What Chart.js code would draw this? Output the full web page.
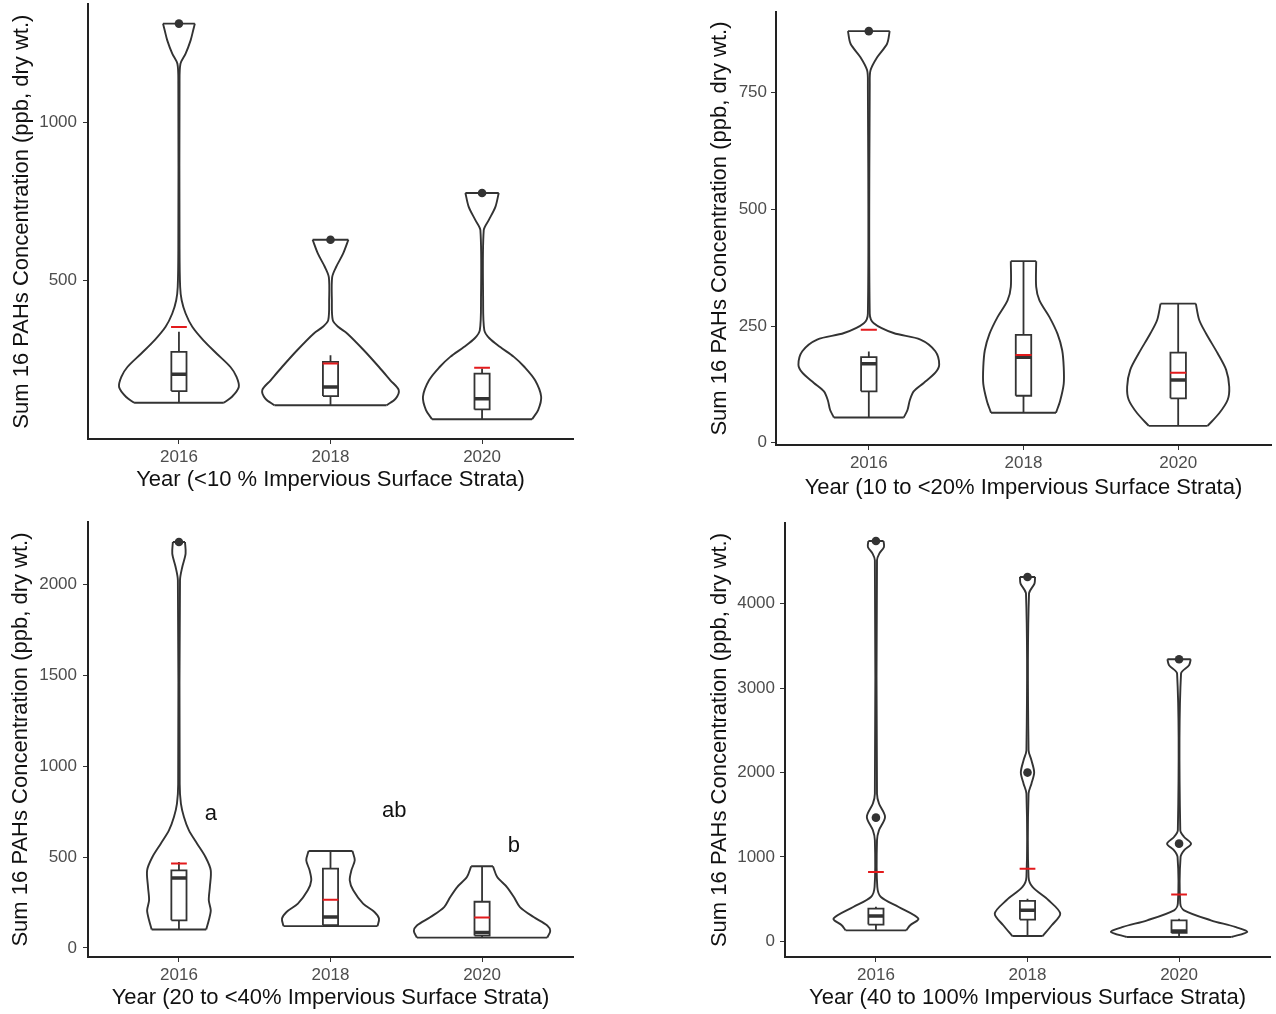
<!DOCTYPE html>
<html>
<head>
<meta charset="utf-8">
<script src="https://cdn.jsdelivr.net/npm/chart.js@4.4.1/dist/chart.umd.min.js"></script>
<style>
html, body { margin: 0; padding: 0; background: #fff; width: 1276px; height: 1014px; overflow: hidden; }
canvas { position: absolute; }
</style>
</head>
<body>
<canvas id="chartA" width="600" height="500" style="left:0;top:0"></canvas>
<canvas id="chartB" width="586" height="508" style="left:690px;top:0"></canvas>
<canvas id="chartC" width="600" height="504" style="left:0;top:510px"></canvas>
<canvas id="chartD" width="586" height="504" style="left:690px;top:510px"></canvas>
<script>
var years = ["2016", "2018", "2020"];

// violin outlines: [value, half width in category units], bottom to top
// <10 % impervious
var violinA2016 = [[113,0.296],[132,0.35],[163,0.395],[195,0.38],[226,0.34],[268,0.25],[311,0.16],[353,0.088],[395,0.044],[437,0.018],[479,0.008],[600,0.004],[1121,0.004],[1184,0.01],[1216,0.044],[1258,0.077],[1290,0.094],[1311,0.105]];
var violinA2018 = [[105,0.37],[126,0.43],[153,0.45],[184,0.395],[226,0.32],[279,0.22],[332,0.11],[353,0.05],[374,0.015],[437,0.009],[510,0.011],[542,0.037],[584,0.083],[628,0.118]];
var violinA2020 = [[61,0.33],[90,0.37],[132,0.39],[184,0.35],[226,0.28],[258,0.21],[289,0.12],[316,0.05],[342,0.015],[437,0.007],[658,0.011],[690,0.044],[732,0.088],[776,0.11]];
// whisker low, q1, median, q3, whisker high
var boxA = [[113,150,203,274,337],[105,134,163,242,263],[61,92,126,205,221]];
var meanA = [352, 237, 224];
var outlierA = [[1311],[628],[776]];

// 10 to <20%
var violinB2016 = [[54,0.226],[70,0.25],[91,0.265],[110,0.29],[128,0.355],[150,0.43],[167,0.455],[196,0.43],[221,0.334],[235,0.16],[256,0.032],[277,0.006],[769,0.006],[798,0.011],[826,0.054],[855,0.118],[882,0.135]];
var violinB2018 = [[64,0.21],[90,0.237],[126,0.26],[162,0.26],[198,0.25],[233,0.22],[269,0.168],[305,0.103],[334,0.082],[389,0.082]];
var violinB2020 = [[36,0.19],[63,0.265],[92,0.32],[120,0.33],[156,0.31],[192,0.254],[234,0.18],[263,0.136],[298,0.114]];
var boxB = [[54,110,169,183.5,195.6],[64,100.5,183,231,389],[36,95,134.5,193,298]];
var meanB = [242, 188, 150];
var outlierB = [[882],[],[]];

// 20 to <40%
var violinC2016 = [[102,0.18],[152,0.197],[207,0.21],[262,0.197],[335,0.204],[427,0.21],[500,0.175],[573,0.12],[646,0.066],[720,0.033],[793,0.013],[900,0.005],[2021,0.007],[2094,0.022],[2167,0.044],[2231,0.04]];
var violinC2018 = [[120,0.31],[162,0.32],[198,0.29],[244,0.215],[317,0.15],[372,0.127],[427,0.138],[482,0.16],[533,0.145]];
var violinC2020 = [[57,0.43],[93,0.45],[124,0.43],[170,0.34],[225,0.25],[280,0.21],[335,0.164],[390,0.1],[449,0.072]];
var boxC = [[102,152,385,427,473],[120,125,171,436,533],[57,68,85,254,449]];
var meanC = [464, 265, 167];
var outlierC = [[2231],[],[]];
var lettersC = ["a", "ab", "b"];

// 40 to 100%
var violinD2016 = [[130,0.2],[190,0.226],[269,0.28],[407,0.15],[525,0.033],[643,0.009],[1198,0.007],[1316,0.02],[1474,0.06],[1632,0.02],[1749,0.007],[4514,0.007],[4593,0.022],[4672,0.053],[4743,0.05]];
var violinD2018 = [[62,0.1],[190,0.16],[328,0.216],[486,0.139],[644,0.033],[762,0.007],[1750,0.007],[1868,0.026],[1999,0.044],[2145,0.026],[2264,0.007],[4120,0.01],[4238,0.046],[4317,0.05]];
var violinD2020 = [[51,0.345],[111,0.45],[170,0.37],[249,0.21],[367,0.033],[447,0.008],[1000,0.01],[1078,0.033],[1157,0.079],[1236,0.033],[1315,0.008],[3172,0.013],[3270,0.066],[3341,0.077]];
var boxD = [[130,198,300,388,410],[62,257,367,478,505],[51,99,123,249,268]];
var meanD = [821, 861, 555];
var outlierD = [[4743,1465],[4317,1999],[3341,1157]];

var FONT = "'Liberation Sans', Arial, sans-serif";
var DARK = '#333333';

function buildDatasets(violins, boxes, means, outliers) {
    var ds = [];
    var boxHalf = 0.05, meanHalf = 0.052;

    var pts = [];
    outliers.forEach(function(list, i) {
        list.forEach(function(v) { pts.push({x: i + 1, y: v}); });
    });
    ds.push({data: pts, showLine: false, pointRadius: 4.3, pointBackgroundColor: DARK, pointBorderColor: DARK, pointBorderWidth: 0});

    var mean = [], med = [], box = [], whisk = [];
    means.forEach(function(m, i) {
        var c = i + 1;
        mean.push({x: c - meanHalf, y: m}, {x: c + meanHalf, y: m}, {x: c, y: null});
    });
    boxes.forEach(function(b, i) {
        var c = i + 1;
        med.push({x: c - boxHalf, y: b[2]}, {x: c + boxHalf, y: b[2]}, {x: c, y: null});
        box.push({x: c - boxHalf, y: b[1]}, {x: c + boxHalf, y: b[1]}, {x: c + boxHalf, y: b[3]},
                 {x: c - boxHalf, y: b[3]}, {x: c - boxHalf, y: b[1]}, {x: c, y: null});
        whisk.push({x: c, y: b[0]}, {x: c, y: b[1]}, {x: c, y: null}, {x: c, y: b[3]}, {x: c, y: b[4]}, {x: c, y: null});
    });
    ds.push({data: mean, borderColor: '#e31a1c', borderWidth: 2, pointRadius: 0});
    ds.push({data: med, borderColor: DARK, borderWidth: 3.5, pointRadius: 0});
    ds.push({data: box, borderColor: DARK, borderWidth: 1.8, pointRadius: 0});
    ds.push({data: whisk, borderColor: DARK, borderWidth: 1.8, pointRadius: 0});

    violins.forEach(function(p, i) {
        var c = i + 1;
        ds.push({data: p.map(function(q) { return {x: c - q[1], y: q[0]}; }), tension: 0.3, borderColor: DARK, borderWidth: 1.9, pointRadius: 0});
        ds.push({data: p.map(function(q) { return {x: c + q[1], y: q[0]}; }), tension: 0.3, borderColor: DARK, borderWidth: 1.9, pointRadius: 0});
        var lo = p[0], hi = p[p.length - 1];
        ds.push({data: [{x: c - lo[1], y: lo[0]}, {x: c + lo[1], y: lo[0]}, {x: c, y: null},
                        {x: c - hi[1], y: hi[0]}, {x: c + hi[1], y: hi[0]}],
                 tension: 0, borderColor: DARK, borderWidth: 1.9, pointRadius: 0});
    });
    return ds;
}

function makeChart(id, cfg) {
    var ctx = document.getElementById(id).getContext("2d");
    return new Chart(ctx, {
        type: 'line',
        data: {datasets: buildDatasets(cfg.violins, cfg.boxes, cfg.means, cfg.outliers)},
        plugins: cfg.plugins || [],
        options: {
            responsive: false,
            animation: false,
            devicePixelRatio: 1,
            layout: {padding: {top: cfg.padTop, right: cfg.padRight, left: 0, bottom: 0}},
            plugins: {legend: {display: false}, tooltip: {enabled: false}},
            scales: {
                x: {
                    type: 'linear', min: 0.4, max: 3.6,
                    afterBuildTicks: function(s) { s.ticks = [{value: 1}, {value: 2}, {value: 3}]; },
                    afterFit: function(s) { s.height = cfg.xHeight; s.paddingLeft = 0; s.paddingRight = 0; },
                    ticks: {callback: function(v) { return years[v - 1]; }, color: '#4d4d4d', font: {size: 17, family: FONT}, padding: 3, maxRotation: 0, autoSkip: false},
                    grid: {drawOnChartArea: false, drawTicks: true, tickLength: 5, color: DARK},
                    border: {display: true, color: '#222', width: 2},
                    title: {display: true, text: cfg.xTitle, color: '#111', font: {size: 22, family: FONT}, padding: {top: 0, bottom: cfg.xTitlePad}}
                },
                y: {
                    type: 'linear', min: cfg.yMin, max: cfg.yMax,
                    afterBuildTicks: function(s) { s.ticks = cfg.yTicks.map(function(v) { return {value: v}; }); },
                    afterFit: function(s) { s.width = cfg.yWidth; s.paddingTop = 0; s.paddingBottom = 0; },
                    ticks: {callback: function(v) { return String(v); }, color: '#4d4d4d', font: {size: 17, family: FONT}, padding: cfg.yTickPad},
                    grid: {drawOnChartArea: false, drawTicks: true, tickLength: 5, color: DARK},
                    border: {display: true, color: '#222', width: 2},
                    title: {display: true, text: "Sum 16 PAHs Concentration (ppb, dry wt.)", color: '#111', font: {size: 22, family: FONT}, padding: {top: cfg.yTitlePad, bottom: 0}}
                }
            }
        }
    });
}

var letterX = [1.21, 2.42, 3.21];
var letterY = [735, 751, 559];
var letterPlugin = {
    id: 'letters',
    afterDatasetsDraw: function(chart) {
        var c = chart.ctx, xs = chart.scales.x, ys = chart.scales.y;
        c.save();
        c.fillStyle = '#111';
        c.font = "22px " + FONT;
        c.textAlign = 'center';
        c.textBaseline = 'middle';
        lettersC.forEach(function(t, i) {
            c.fillText(t, xs.getPixelForValue(letterX[i]), ys.getPixelForValue(letterY[i]));
        });
        c.restore();
    }
};

makeChart("chartA", {
    violins: [violinA2016, violinA2018, violinA2020], boxes: boxA, means: meanA, outliers: outlierA,
    xTitle: "Year (<10 % Impervious Surface Strata)",
    yMin: -1.5, yMax: 1372, yTicks: [500, 1000],
    padTop: 4, padRight: 27, yWidth: 88, xHeight: 61, xTitlePad: 7, yTitlePad: 9, yTickPad: 6
});

makeChart("chartB", {
    violins: [violinB2016, violinB2018, violinB2020], boxes: boxB, means: meanB, outliers: outlierB,
    xTitle: "Year (10 to <20% Impervious Surface Strata)",
    yMin: -5, yMax: 923, yTicks: [0, 250, 500, 750],
    padTop: 12, padRight: 5, yWidth: 86, xHeight: 63, xTitlePad: 7, yTitlePad: 17, yTickPad: 4
});

makeChart("chartC", {
    violins: [violinC2016, violinC2018, violinC2020], boxes: boxC, means: meanC, outliers: outlierC,
    xTitle: "Year (20 to <40% Impervious Surface Strata)",
    yMin: -49.5, yMax: 2341, yTicks: [0, 500, 1000, 1500, 2000],
    padTop: 12, padRight: 27, yWidth: 88, xHeight: 57, xTitlePad: 3, yTitlePad: 8, yTickPad: 6,
    plugins: [letterPlugin]
});

makeChart("chartD", {
    violins: [violinD2016, violinD2018, violinD2020], boxes: boxD, means: meanD, outliers: outlierD,
    xTitle: "Year (40 to 100% Impervious Surface Strata)",
    yMin: -186, yMax: 4956, yTicks: [0, 1000, 2000, 3000, 4000],
    padTop: 13, padRight: 6, yWidth: 95, xHeight: 57, xTitlePad: 3, yTitlePad: 17, yTickPad: 5
});
</script>
</body>
</html>
